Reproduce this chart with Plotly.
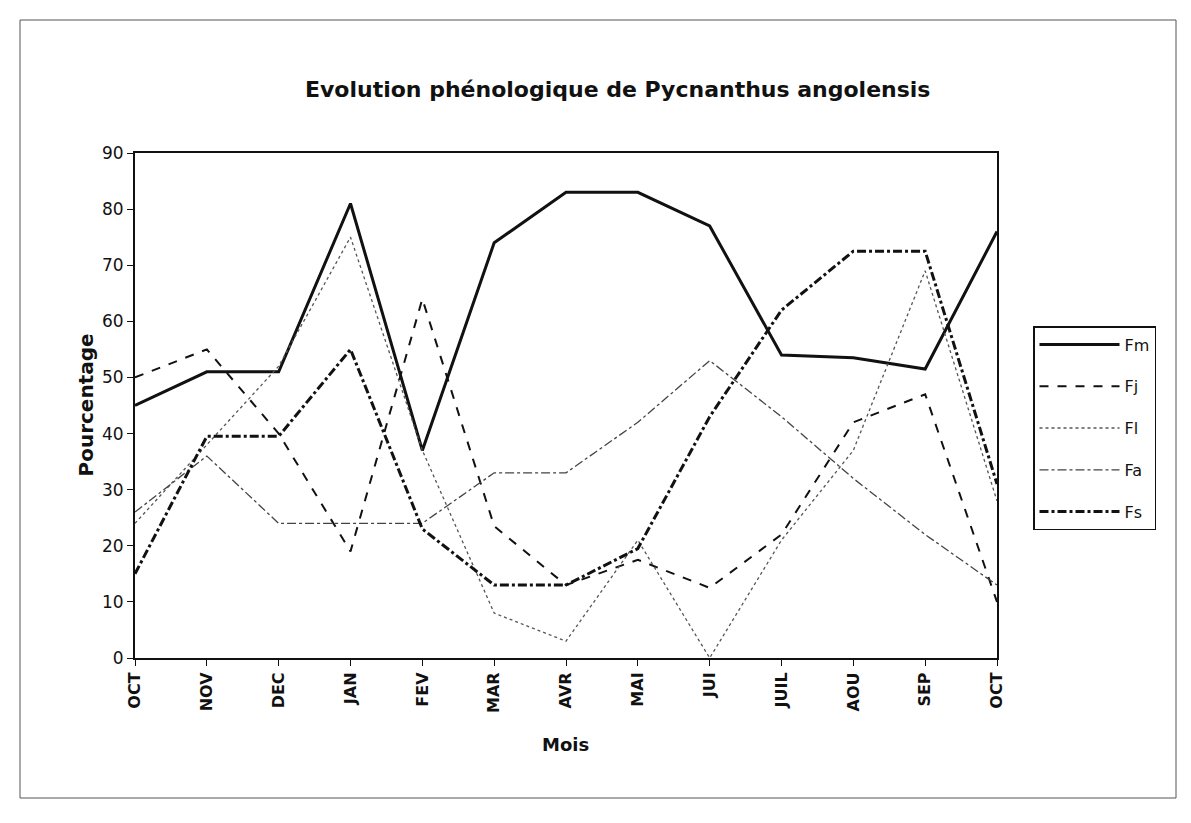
import plotly.graph_objects as go

# ---- data ----
months = ["OCT", "NOV", "DEC", "JAN", "FEV", "MAR", "AVR", "MAI", "JUI", "JUIL", "AOU", "SEP", "OCT"]
fm = [45, 51, 51, 81, 37, 74, 83, 83, 77, 54, 53.5, 51.5, 76]
fj = [50, 55, 40, 19, 64, 23.5, 13, 17.5, 12.5, 22, 42, 47, 10]
fl = [24, 38, 52, 75, 37, 8, 3, 21, 0, 21, 37, 69, 28]
fa = [26, 36, 24, 24, 24, 33, 33, 42, 53, 43, 32, 22, 13]
fs = [15, 39.5, 39.5, 55, 23, 13, 13, 19.5, 43, 62, 72.5, 72.5, 31]
series_names = ["Fm", "Fj", "Fl", "Fa", "Fs"]
yticks = [0, 10, 20, 30, 40, 50, 60, 70, 80, 90]

xpos = list(range(len(months)))
FONT = "DejaVu Sans, Liberation Sans, Arial, sans-serif"

styles = {
    "Fm": dict(color="#111111", width=3, dash="solid"),
    "Fj": dict(color="#111111", width=2, dash="dash"),
    "Fl": dict(color="#555555", width=1.3, dash="dot"),
    "Fa": dict(color="#444444", width=1.3, dash="dashdot"),
    "Fs": dict(color="#111111", width=3, dash="dashdot"),
}
data = {"Fm": fm, "Fj": fj, "Fl": fl, "Fa": fa, "Fs": fs}

fig = go.Figure()
for name in series_names:
    fig.add_trace(go.Scatter(
        x=xpos, y=data[name], mode="lines", name=name,
        line=styles[name], legendgroup=name,
    ))

OFF = 8  # page body margin
W, H = 1191 - 2 * OFF, 823 - 2 * OFF
L, R, T, B = 135 - OFF, 997 - OFF, 153 - OFF, 658 - OFF


def px(x):
    return (x - OFF - L) / (R - L)


def py(y):
    return (B - (y - OFF)) / (B - T)


fig.update_layout(
    width=W, height=H,
    margin=dict(l=L, r=W - R, t=T, b=H - B),
    paper_bgcolor="white", plot_bgcolor="white",
    font=dict(family=FONT, color="#111111", size=13),
    showlegend=True,
    legend=dict(
        x=px(1033), y=py(326),
        xanchor="left", yanchor="top",
        bordercolor="#111111", borderwidth=1.5,
        bgcolor="white",
        font=dict(family=FONT, size=16, color="#111111"),
        itemwidth=80, tracegroupgap=18,
    ),
    xaxis=dict(
        range=[0, 12], tickmode="array", tickvals=xpos, ticktext=months,
        tickangle=-90, ticks="outside", ticklen=6, tickcolor="#111111",
        tickfont=dict(family=FONT, size=16, color="#111111", weight="bold"),
        showgrid=False, zeroline=False,
        showline=True, linecolor="#111111", linewidth=2, mirror=True,
    ),
    yaxis=dict(
        range=[0, 90], tickvals=yticks, ticks="outside", ticklen=6,
        tickcolor="#111111",
        tickfont=dict(family=FONT, size=17, color="#111111"),
        showgrid=False, zeroline=False,
        showline=True, linecolor="#111111", linewidth=2, mirror=True,
    ),
    annotations=[
        dict(text="<b>Evolution phénologique de Pycnanthus angolensis</b>",
             xref="paper", yref="paper",
             x=px(617), y=py(75),
             showarrow=False, font=dict(family=FONT, size=22, color="#111111")),
        dict(text="<b>Mois</b>", xref="paper", yref="paper",
             x=px(565), y=py(757),
             showarrow=False, font=dict(family=FONT, size=18, color="#111111")),
        dict(text="<b>Pourcentage</b>", xref="paper", yref="paper",
             x=px(71), y=0.5, textangle=-90,
             showarrow=False, font=dict(family=FONT, size=20, color="#111111")),
    ],
    shapes=[
        dict(type="rect", xref="paper", yref="paper",
             x0=px(20), x1=px(1176),
             y0=py(798), y1=py(20),
             line=dict(color="#555555", width=1)),
    ],
)

fig.write_html("out.html")
